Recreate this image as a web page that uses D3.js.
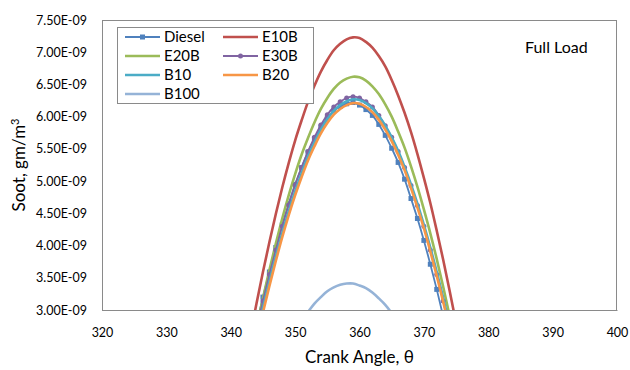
<!DOCTYPE html>
<html><head><meta charset="utf-8">
<script src="https://cdn.jsdelivr.net/npm/d3@7"></script>
<style>body{margin:0;background:#fff}svg{display:block}</style>
</head><body>
<svg id="c" width="630" height="370"></svg>
<script>
const angles = [343,344,345,346,347,348,349,350,351,352,353,354,355,356,357,358,359,360,361,362,363,364,365,366,367,368,369,370,371,372,373,374,375,376];
const diesel = [2.31,2.77,3.20,3.59,3.97,4.32,4.65,4.95,5.21,5.45,5.66,5.84,5.98,6.09,6.16,6.20,6.22,6.18,6.11,6.02,5.88,5.71,5.51,5.29,5.03,4.73,4.42,4.08,3.71,3.32,2.90,2.46,2.00,1.52];
const e10b = [2.59,3.10,3.59,4.05,4.49,4.90,5.28,5.63,5.94,6.23,6.48,6.70,6.88,7.03,7.13,7.20,7.23,7.22,7.16,7.07,6.94,6.78,6.57,6.33,6.06,5.76,5.42,5.05,4.66,4.23,3.78,3.30,2.80,2.27];
const e20b = [2.23,2.72,3.18,3.62,4.03,4.42,4.78,5.11,5.41,5.67,5.91,6.12,6.29,6.43,6.53,6.59,6.62,6.61,6.56,6.47,6.35,6.19,6.00,5.77,5.52,5.23,4.91,4.56,4.19,3.79,3.36,2.91,2.43,1.93];
const e30b = [2.25,2.71,3.14,3.55,3.93,4.30,4.63,4.94,5.21,5.46,5.68,5.87,6.03,6.15,6.23,6.29,6.31,6.29,6.23,6.15,6.02,5.86,5.68,5.46,5.21,4.93,4.62,4.30,3.93,3.55,3.14,2.71,2.26,1.78];
const b10 = [2.13,2.59,3.03,3.44,3.83,4.19,4.53,4.84,5.12,5.38,5.60,5.80,5.96,6.09,6.18,6.24,6.27,6.26,6.21,6.13,6.01,5.86,5.68,5.47,5.22,4.95,4.65,4.32,3.97,3.59,3.19,2.76,2.31,1.84];
const b20 = [2.06,2.52,2.96,3.37,3.76,4.13,4.47,4.78,5.06,5.32,5.54,5.74,5.90,6.03,6.12,6.18,6.21,6.20,6.15,6.07,5.95,5.80,5.62,5.41,5.17,4.89,4.59,4.27,3.91,3.53,3.13,2.70,2.25,1.78];
const b100 = [null,null,null,null,null,null,null,2.66,2.83,2.97,3.10,3.20,3.29,3.35,3.39,3.41,3.41,3.38,3.34,3.27,3.18,3.08,2.95,2.79,null,null,null,null,null,null,null,null,null,null];
const xTicks = [320,330,340,350,360,370,380,390,400];
const yTicks = [3.0,3.5,4.0,4.5,5.0,5.5,6.0,6.5,7.0,7.5];
const seriesNames = ["Diesel","E10B","E20B","E30B","B10","B20","B100"];
const seriesValues = [diesel,e10b,e20b,e30b,b10,b20,b100];
const colors = ["#4F81BD","#C0504D","#9BBB59","#8064A2","#4BACC6","#F79646","#95B3D7"];
const markers = ["square",null,null,"circle",null,null,null];

const svg = d3.select("#c");
const L=102, R=617, T=20, B=310;
const x = d3.scaleLinear().domain([320,400]).range([L,R]);
const y = d3.scaleLinear().domain([3.0,7.5]).range([B,T]);
const font = "Lato, 'Open Sans', sans-serif";

svg.append("defs").append("clipPath").attr("id","pc")
  .append("rect").attr("x",L).attr("y",T).attr("width",R-L).attr("height",B-T);

svg.append("rect").attr("x",L+0.5).attr("y",T+0.5).attr("width",R-L-1).attr("height",B-T)
  .attr("fill","none").attr("stroke","#8a8a8a").attr("stroke-width",1);

const xAxis = d3.axisBottom(x).tickValues(xTicks).tickSize(0).tickPadding(18).tickFormat(d3.format("d"));
const gx = svg.append("g").attr("transform",`translate(0,${B})`).call(xAxis);
gx.select(".domain").attr("stroke","#8a8a8a");
gx.selectAll("text").attr("font-family",font).attr("font-size",12.5).attr("fill","#000");

const yAxis = d3.axisLeft(y).tickValues(yTicks).tickSize(0).tickPadding(15)
  .tickFormat(d => d.toFixed(2)+"E-09");
const gy = svg.append("g").attr("transform",`translate(${L},0)`).call(yAxis);
gy.select(".domain").attr("stroke","#8a8a8a");
gy.selectAll("text").attr("font-family",font).attr("font-size",12.5).attr("fill","#000");

const plot = svg.append("g").attr("clip-path","url(#pc)");
seriesValues.forEach((vals,i)=>{
  const pts = angles.map((a,j)=>({a, v: vals[j]}));
  const line = d3.line().defined(d=>d.v!==null).x(d=>x(d.a)).y(d=>y(d.v)).curve(d3.curveCatmullRom);
  plot.append("path").datum(pts).attr("d",line).attr("fill","none")
    .attr("stroke",colors[i]).attr("stroke-width", markers[i] ? 1.8 : 2.6);
  const vis = pts.filter(d=>d.v!==null && d.v>=3.0);
  if(markers[i]==="square"){
    plot.selectAll(null).data(vis).enter().append("rect")
      .attr("x",d=>x(d.a)-2.5).attr("y",d=>y(d.v)-2.5).attr("width",5).attr("height",5)
      .attr("fill",colors[i]);
  } else if(markers[i]==="circle"){
    plot.selectAll(null).data(vis).enter().append("circle")
      .attr("cx",d=>x(d.a)).attr("cy",d=>y(d.v)).attr("r",2.5).attr("fill",colors[i]);
  }
});

const lg = svg.append("g");
lg.append("rect").attr("x",117.5).attr("y",27.5).attr("width",196).attr("height",76)
  .attr("fill","#fff").attr("stroke","#8a8a8a");
seriesNames.forEach((n,i)=>{
  const col = i%2, row = Math.floor(i/2);
  const lx = col===0 ? 125 : 223, ly = 37 + row*19;
  lg.append("line").attr("x1",lx).attr("x2",lx+35).attr("y1",ly).attr("y2",ly)
    .attr("stroke",colors[i]).attr("stroke-width", markers[i]?1.8:2.6);
  if(markers[i]==="square") lg.append("rect").attr("x",lx+15).attr("y",ly-2.5).attr("width",5).attr("height",5).attr("fill",colors[i]);
  if(markers[i]==="circle") lg.append("circle").attr("cx",lx+17.5).attr("cy",ly).attr("r",2.5).attr("fill",colors[i]);
  lg.append("text").attr("x",lx+39).attr("y",ly).attr("dy","0.36em")
    .attr("font-family",font).attr("font-size",15).attr("fill","#000").text(n);
});

svg.append("text").attr("x",525).attr("y",47).attr("dy","0.36em")
  .attr("font-family",font).attr("font-size",16).attr("fill","#000").text("Full Load");

svg.append("text").attr("x",(L+R)/2).attr("y",357).attr("dy","0.36em").attr("text-anchor","middle")
  .attr("font-family",font).attr("font-size",17).attr("fill","#000").text("Crank Angle, θ");
const yt = svg.append("text").attr("transform",`translate(19,${(T+B)/2}) rotate(-90)`)
  .attr("text-anchor","middle").attr("dy","0.36em")
  .attr("font-family",font).attr("font-size",17).attr("fill","#000");
yt.append("tspan").text("Soot, gm/m");
yt.append("tspan").attr("font-size",11).attr("dy","-0.6em").text("3");
</script>
</body></html>
